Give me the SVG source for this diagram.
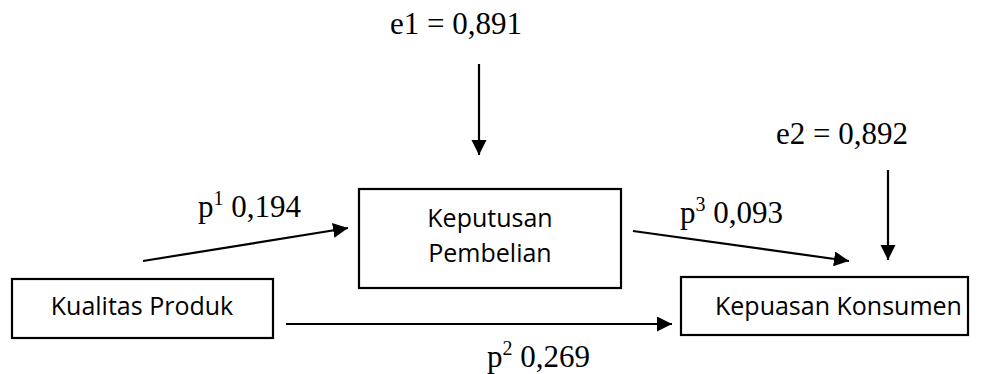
<svg xmlns="http://www.w3.org/2000/svg" width="982" height="374" viewBox="0 0 982 374">
<style>
.box{fill:#fff;stroke:#000;stroke-width:2.2}
.lbl{font-family:"Open Sans","Liberation Sans",sans-serif;font-size:25px;fill:#000}
.num{font-family:"Liberation Serif","Times New Roman",serif;font-size:31px;fill:#000}
.sup{font-size:20px}
.con{stroke:#000;stroke-width:2.2;fill:none;marker-end:url(#ah)}
</style>
<defs>
<marker id="ah" markerUnits="userSpaceOnUse" markerWidth="16" markerHeight="16" refX="15" refY="7.5" orient="auto">
<path d="M0,0 L15,7.5 L0,15 z" fill="#000"/>
</marker>
</defs>
<rect width="982" height="374" fill="#fff"/>
<g id="connectors">
<line class="con" x1="479" y1="64" x2="479" y2="155"/>
<line class="con" x1="888" y1="170" x2="888" y2="260"/>
<line class="con" x1="143" y1="261" x2="348" y2="228"/>
<line class="con" x1="633" y1="231" x2="849" y2="261"/>
<line class="con" x1="286" y1="324" x2="672" y2="324"/>
</g>
<g id="keputusan">
<rect class="box" x="359" y="189" width="262" height="99"/>
<text class="lbl" x="490" y="227" text-anchor="middle">Keputusan</text>
<text class="lbl" x="490" y="262" text-anchor="middle">Pembelian</text>
</g>
<g id="kualitas">
<rect class="box" x="12" y="279" width="261" height="59"/>
<text class="lbl" x="142" y="315" text-anchor="middle">Kualitas Produk</text>
</g>
<g id="kepuasan">
<rect class="box" x="681" y="277" width="287" height="58"/>
<text class="lbl" x="715" y="315">Kepuasan Konsumen</text>
</g>
<g id="labels">
<text class="num" x="390" y="34">e1 = 0,891</text>
<text class="num" x="908" y="144" text-anchor="end">e2 = 0,892</text>
<text class="num" x="198" y="217">p<tspan class="sup" dy="-12">1</tspan><tspan dy="12"> 0,194</tspan></text>
<text class="num" x="680" y="223">p<tspan class="sup" dy="-12">3</tspan><tspan dy="12"> 0,093</tspan></text>
<text class="num" x="487" y="367">p<tspan class="sup" dy="-12">2</tspan><tspan dy="12"> 0,269</tspan></text>
</g>
</svg>
